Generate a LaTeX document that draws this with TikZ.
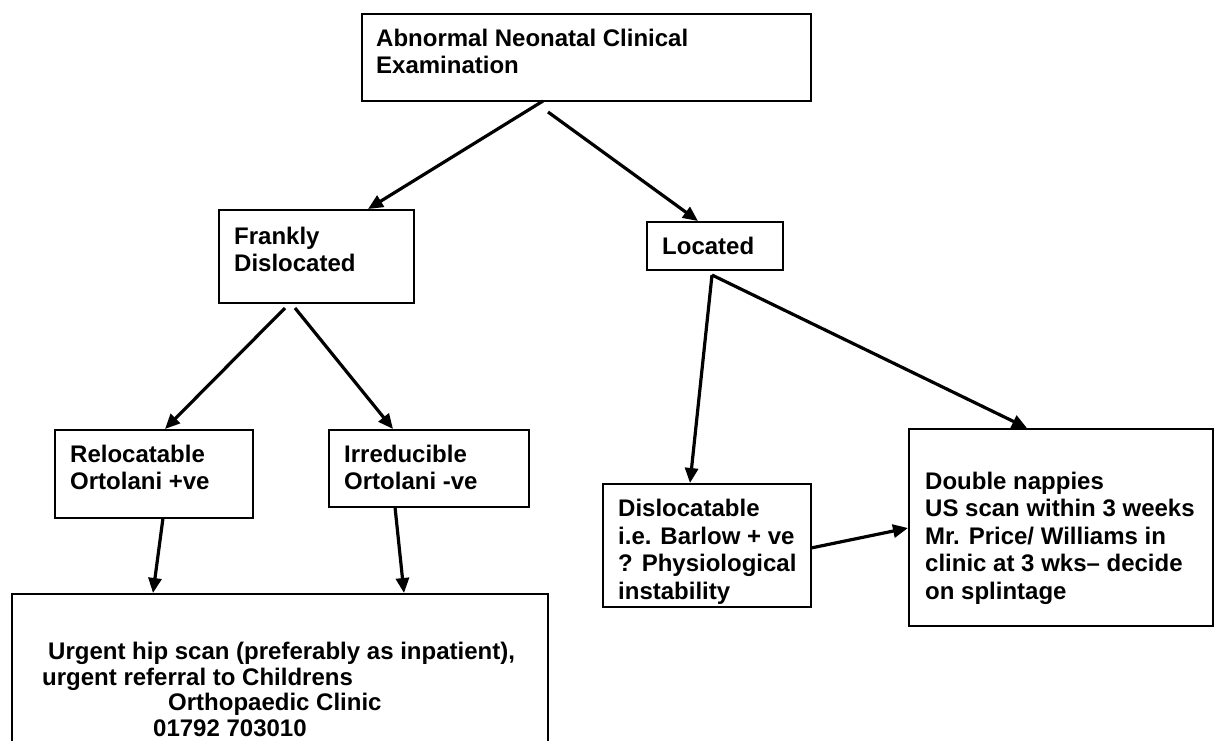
\documentclass[tikz,border=0pt]{standalone}
\usepackage{fontspec}
\setmainfont{Liberation Sans}
\usetikzlibrary{arrows.meta}
\begin{document}
\begin{tikzpicture}[x=1pt,y=-1pt,
  box/.style={draw, line width=2pt, inner sep=0pt, anchor=north west},
  txt/.style={anchor=base west, inner sep=0pt, font=\fontsize{24}{27.5}\selectfont\bfseries},
  arr/.style={line width=3.2pt, -{Triangle[length=15pt,width=13pt]}}]
\useasboundingbox (0,0) rectangle (1214,740);
\clip (0,0) rectangle (1214,740);
% boxes
\node[box, minimum width=449pt, minimum height=87pt] (top) at (361,13) {};
\node[box, minimum width=195pt, minimum height=93pt] (fd) at (218,209) {};
\node[box, minimum width=136pt, minimum height=48pt] (loc) at (646,221) {};
\node[box, minimum width=198pt, minimum height=88pt] (rel) at (54,429) {};
\node[box, minimum width=200pt, minimum height=77pt] (irr) at (328,429) {};
\node[box, minimum width=536pt, minimum height=180pt] (urg) at (11,593) {};
\node[box, minimum width=208pt, minimum height=123pt] (dis) at (602,483) {};
\node[box, minimum width=304pt, minimum height=197pt] (dbl) at (908,428) {};
% texts
\node[txt] (t1) at (376,46) {Abnormal Neonatal Clinical};
\node[txt] (t2) at (376,73) {Examination};
\node[txt] (t3) at (234,244) {Frankly};
\node[txt] (t4) at (234,271.5) {Dislocated};
\node[txt] (t5) at (662,254) {Located};
\node[txt] (t6) at (70,462) {Relocatable};
\node[txt] (t7) at (70,489.5) {Ortolani +ve};
\node[txt] (t8) at (344,462) {Irreducible};
\node[txt] (t9) at (344,489.5) {Ortolani -ve};
\node[txt] (t10) at (48,659) {Urgent hip scan (preferably as inpatient),};
\node[txt] (t11) at (42,685) {urgent referral to Childrens};
\node[txt] (t12) at (168,710.5) {Orthopaedic Clinic};
\node[txt] (t13) at (153,736) {01792 703010};
\node[txt] (t14) at (618,516.5) {Dislocatable};
\node[txt] (t15) at (618,544) {i.e. Barlow + ve};
\node[txt] (t16) at (618,571.5) {? Physiological};
\node[txt] (t17) at (618,599) {instability};
\node[txt] (t18) at (925,489) {Double nappies};
\node[txt] (t19) at (925,516.5) {US scan within 3 weeks};
\node[txt] (t20) at (925,544) {Mr. Price/ Williams in};
\node[txt] (t21) at (925,571.5) {clinic at 3 wks{\textendash} decide};
\node[txt] (t22) at (925,599) {on splintage};
% connector ends
\coordinate (a1) at (543,101);
\coordinate (a1t) at (368,209);
\coordinate (a2) at (548,112);
\coordinate (a2t) at (698,221);
\coordinate (b1) at (285,308);
\coordinate (b1t) at (165,429);
\coordinate (b2) at (295,308);
\coordinate (b2t) at (393,429);
\coordinate (c1) at (163,518);
\coordinate (c1t) at (153,593);
\coordinate (c2) at (395,507);
\coordinate (c2t) at (404,593);
\coordinate (apex) at (712,275);
\coordinate (d1t) at (690,483);
\coordinate (d2t) at (1027,428);
\coordinate (e1) at (811,548);
\coordinate (e1t) at (908,528);
% connectors
\draw[arr] (a1) -- (a1t);
\draw[arr] (a2) -- (a2t);
\draw[arr] (b1) -- (b1t);
\draw[arr] (b2) -- (b2t);
\draw[arr] (c1) -- (c1t);
\draw[arr] (c2) -- (c2t);
\draw[arr] (apex) -- (d1t);
\draw[arr] (apex) -- (d2t);
\draw[arr] (e1) -- (e1t);
\end{tikzpicture}
\end{document}
